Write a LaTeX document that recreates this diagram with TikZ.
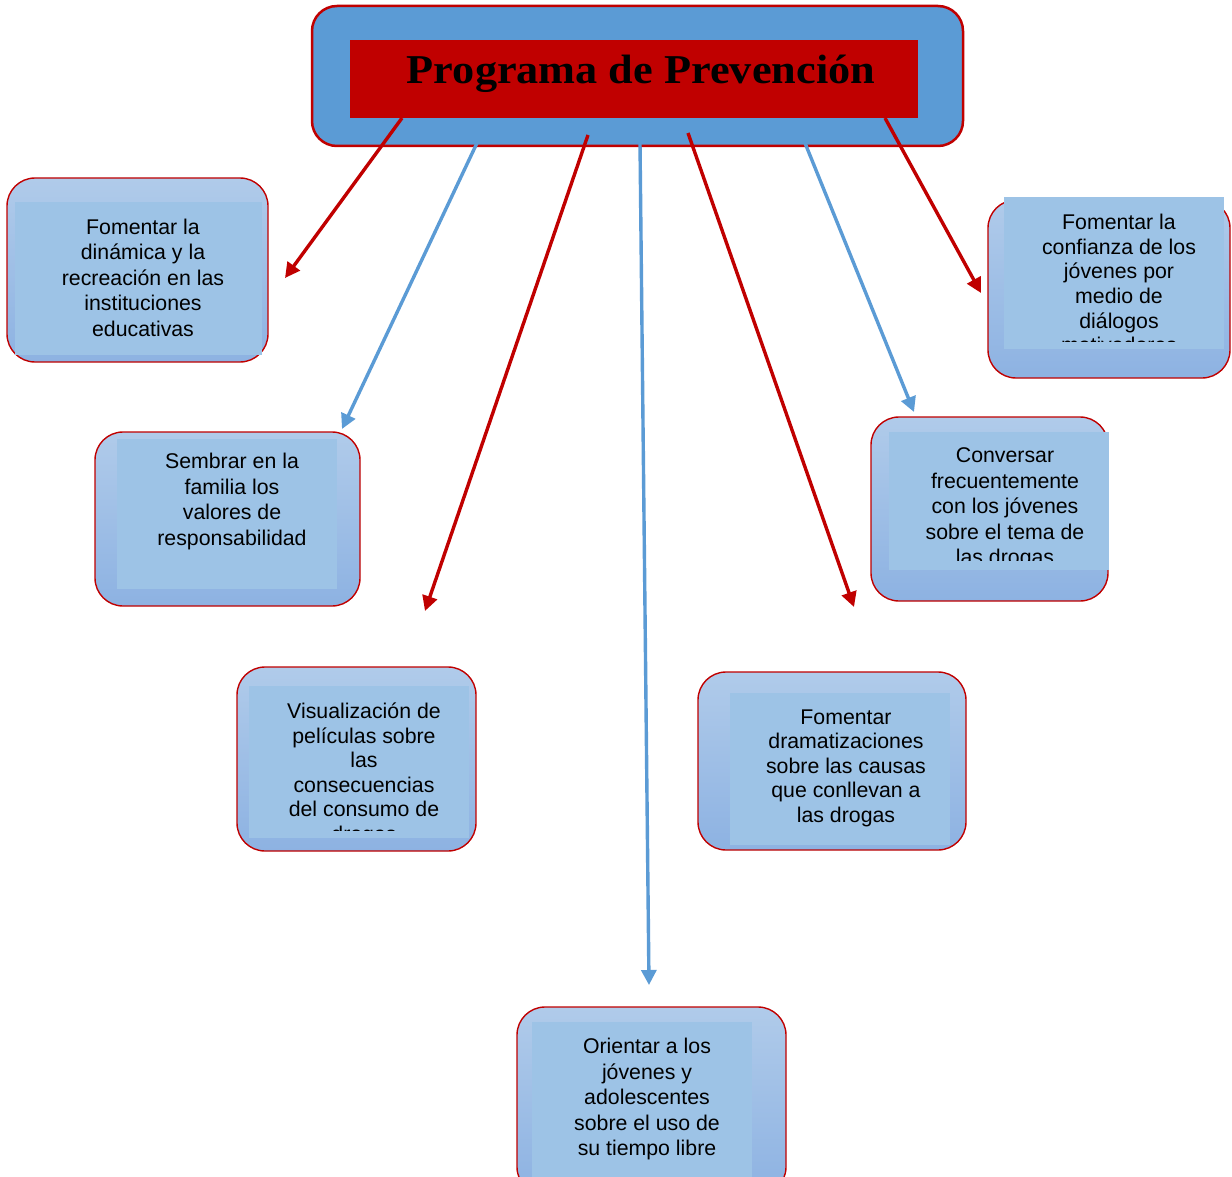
\documentclass[tikz,border=0pt]{standalone}
\usepackage{fontspec}
\usepackage{graphicx}
\setmainfont{Liberation Sans}
\newfontfamily\titlefont{Liberation Serif}
\usetikzlibrary{arrows.meta}
\definecolor{myred}{HTML}{C00000}
\definecolor{myblue}{HTML}{5B9BD5}
\definecolor{boxtop}{HTML}{B0CBEA}
\definecolor{boxbot}{HTML}{8DB2E2}
\definecolor{innerfill}{HTML}{9DC3E6}
\tikzset{
  outerbox/.style={draw=myred, line width=1.4pt, rounded corners=28pt, top color=boxtop, bottom color=boxbot, inner sep=0pt},
  innerbox/.style={fill=innerfill, draw=none, inner sep=0pt},
  boxtext/.style={anchor=north, inner sep=0pt, align=center, font=\fontsize{21.3}{25.5}\selectfont, text=black},
  tighttext/.style={boxtext, font=\fontsize{21.3}{24.6}\selectfont},
  rarrow/.style={draw=myred, line width=3.4pt, -{Triangle[length=15pt,width=15pt]}},
  barrow/.style={draw=myblue, line width=3.4pt, -{Triangle[length=15pt,width=15pt]}}
}
\newcommand{\st}{\rule{0pt}{20pt}}
\begin{document}
\begin{tikzpicture}[x=1pt,y=-1pt]
\useasboundingbox (0,0) rectangle (1232,1177);
\clip (0,0) rectangle (1232,1177);

% Title
\node[draw=myred, line width=2.5pt, fill=myblue, rounded corners=25pt, minimum width=651pt, minimum height=140pt, inner sep=0pt] (title) at (637.5,76) {};
\node[fill=myred, minimum width=568pt, minimum height=78pt, inner sep=0pt] (titlein) at (634,79) {};
\node[anchor=base, inner sep=0pt] (titletext) at (641,84) {\scalebox{1.08}[1]{\titlefont\bfseries\fontsize{41}{45}\selectfont Programa de Prevención}};

% Box A
\node[outerbox, minimum width=261pt, minimum height=184pt] (A) at (137.5,270) {};
\node[innerbox, minimum width=247pt, minimum height=153pt] (Ai) at (138.5,278.5) {};
\node[boxtext] (At) at (143,213.8) {\st Fomentar la\\dinámica y la\\recreación en las\\instituciones\\educativas};

% Box B
\node[outerbox, minimum width=265pt, minimum height=174pt] (B) at (227.5,519) {};
\node[innerbox, minimum width=220pt, minimum height=150pt] (Bi) at (227,514) {};
\node[boxtext] (Bt) at (232,448.3) {\st Sembrar en la\\familia los\\valores de\\responsabilidad};

% Box C
\node[outerbox, minimum width=239pt, minimum height=184pt] (C) at (356.5,759) {};
\node[innerbox, minimum width=220pt, minimum height=152pt] (Ci) at (359,762) {};
\begin{scope}
\clip (249,686) rectangle (469,830);
\node[tighttext] (Ct) at (364,698.3) {\st Visualización de\\películas sobre\\las\\consecuencias\\del consumo de\\drogas};
\end{scope}

% Box D
\node[outerbox, minimum width=269pt, minimum height=188pt] (D) at (651.5,1101) {};
\node[innerbox, minimum width=220pt, minimum height=163pt] (Di) at (642,1103.5) {};
\node[boxtext] (Dt) at (647,1033.3) {\st Orientar a los\\jóvenes y\\adolescentes\\sobre el uso de\\su tiempo libre};

% Box E
\node[outerbox, minimum width=268pt, minimum height=178pt] (E) at (832,761) {};
\node[innerbox, minimum width=220pt, minimum height=152pt] (Ei) at (840,769) {};
\node[tighttext] (Et) at (846,703.8) {\st Fomentar\\dramatizaciones\\sobre las causas\\que conllevan a\\las drogas};

% Box F
\node[outerbox, minimum width=237pt, minimum height=184pt] (F) at (989.5,509) {};
\node[innerbox, minimum width=220pt, minimum height=138pt] (Fi) at (999,501) {};
\begin{scope}
\clip (889,432) rectangle (1109,560);
\node[boxtext] (Ft) at (1005,442.3) {\st Conversar\\frecuentemente\\con los jóvenes\\sobre el tema de\\las drogas};
\end{scope}

% Box G
\node[outerbox, minimum width=242pt, minimum height=178pt] (G) at (1109,289) {};
\node[innerbox, minimum width=220pt, minimum height=152pt] (Gi) at (1114,273) {};
\begin{scope}
\clip (1004,197) rectangle (1224,341);
\node[tighttext] (Gt) at (1119,209.5) {\st Fomentar la\\confianza de los\\jóvenes por\\medio de\\diálogos\\motivadores};
\end{scope}

% Connector coordinates
\coordinate (s1) at (402,118);
\coordinate (t1) at (285,278);
\coordinate (s2) at (477,143);
\coordinate (t2) at (342,429);
\coordinate (s3) at (588,135);
\coordinate (t3) at (425,611);
\coordinate (s4) at (640,143);
\coordinate (t4) at (649,985);
\coordinate (s5) at (688,133);
\coordinate (t5) at (854,607);
\coordinate (s6) at (805,143);
\coordinate (t6) at (914,412);
\coordinate (s7) at (885,118);
\coordinate (t7) at (981,293);

\draw[rarrow] (s1) -- (t1);
\draw[barrow] (s2) -- (t2);
\draw[rarrow] (s3) -- (t3);
\draw[barrow] (s4) -- (t4);
\draw[rarrow] (s5) -- (t5);
\draw[barrow] (s6) -- (t6);
\draw[rarrow] (s7) -- (t7);
\end{tikzpicture}
\end{document}
